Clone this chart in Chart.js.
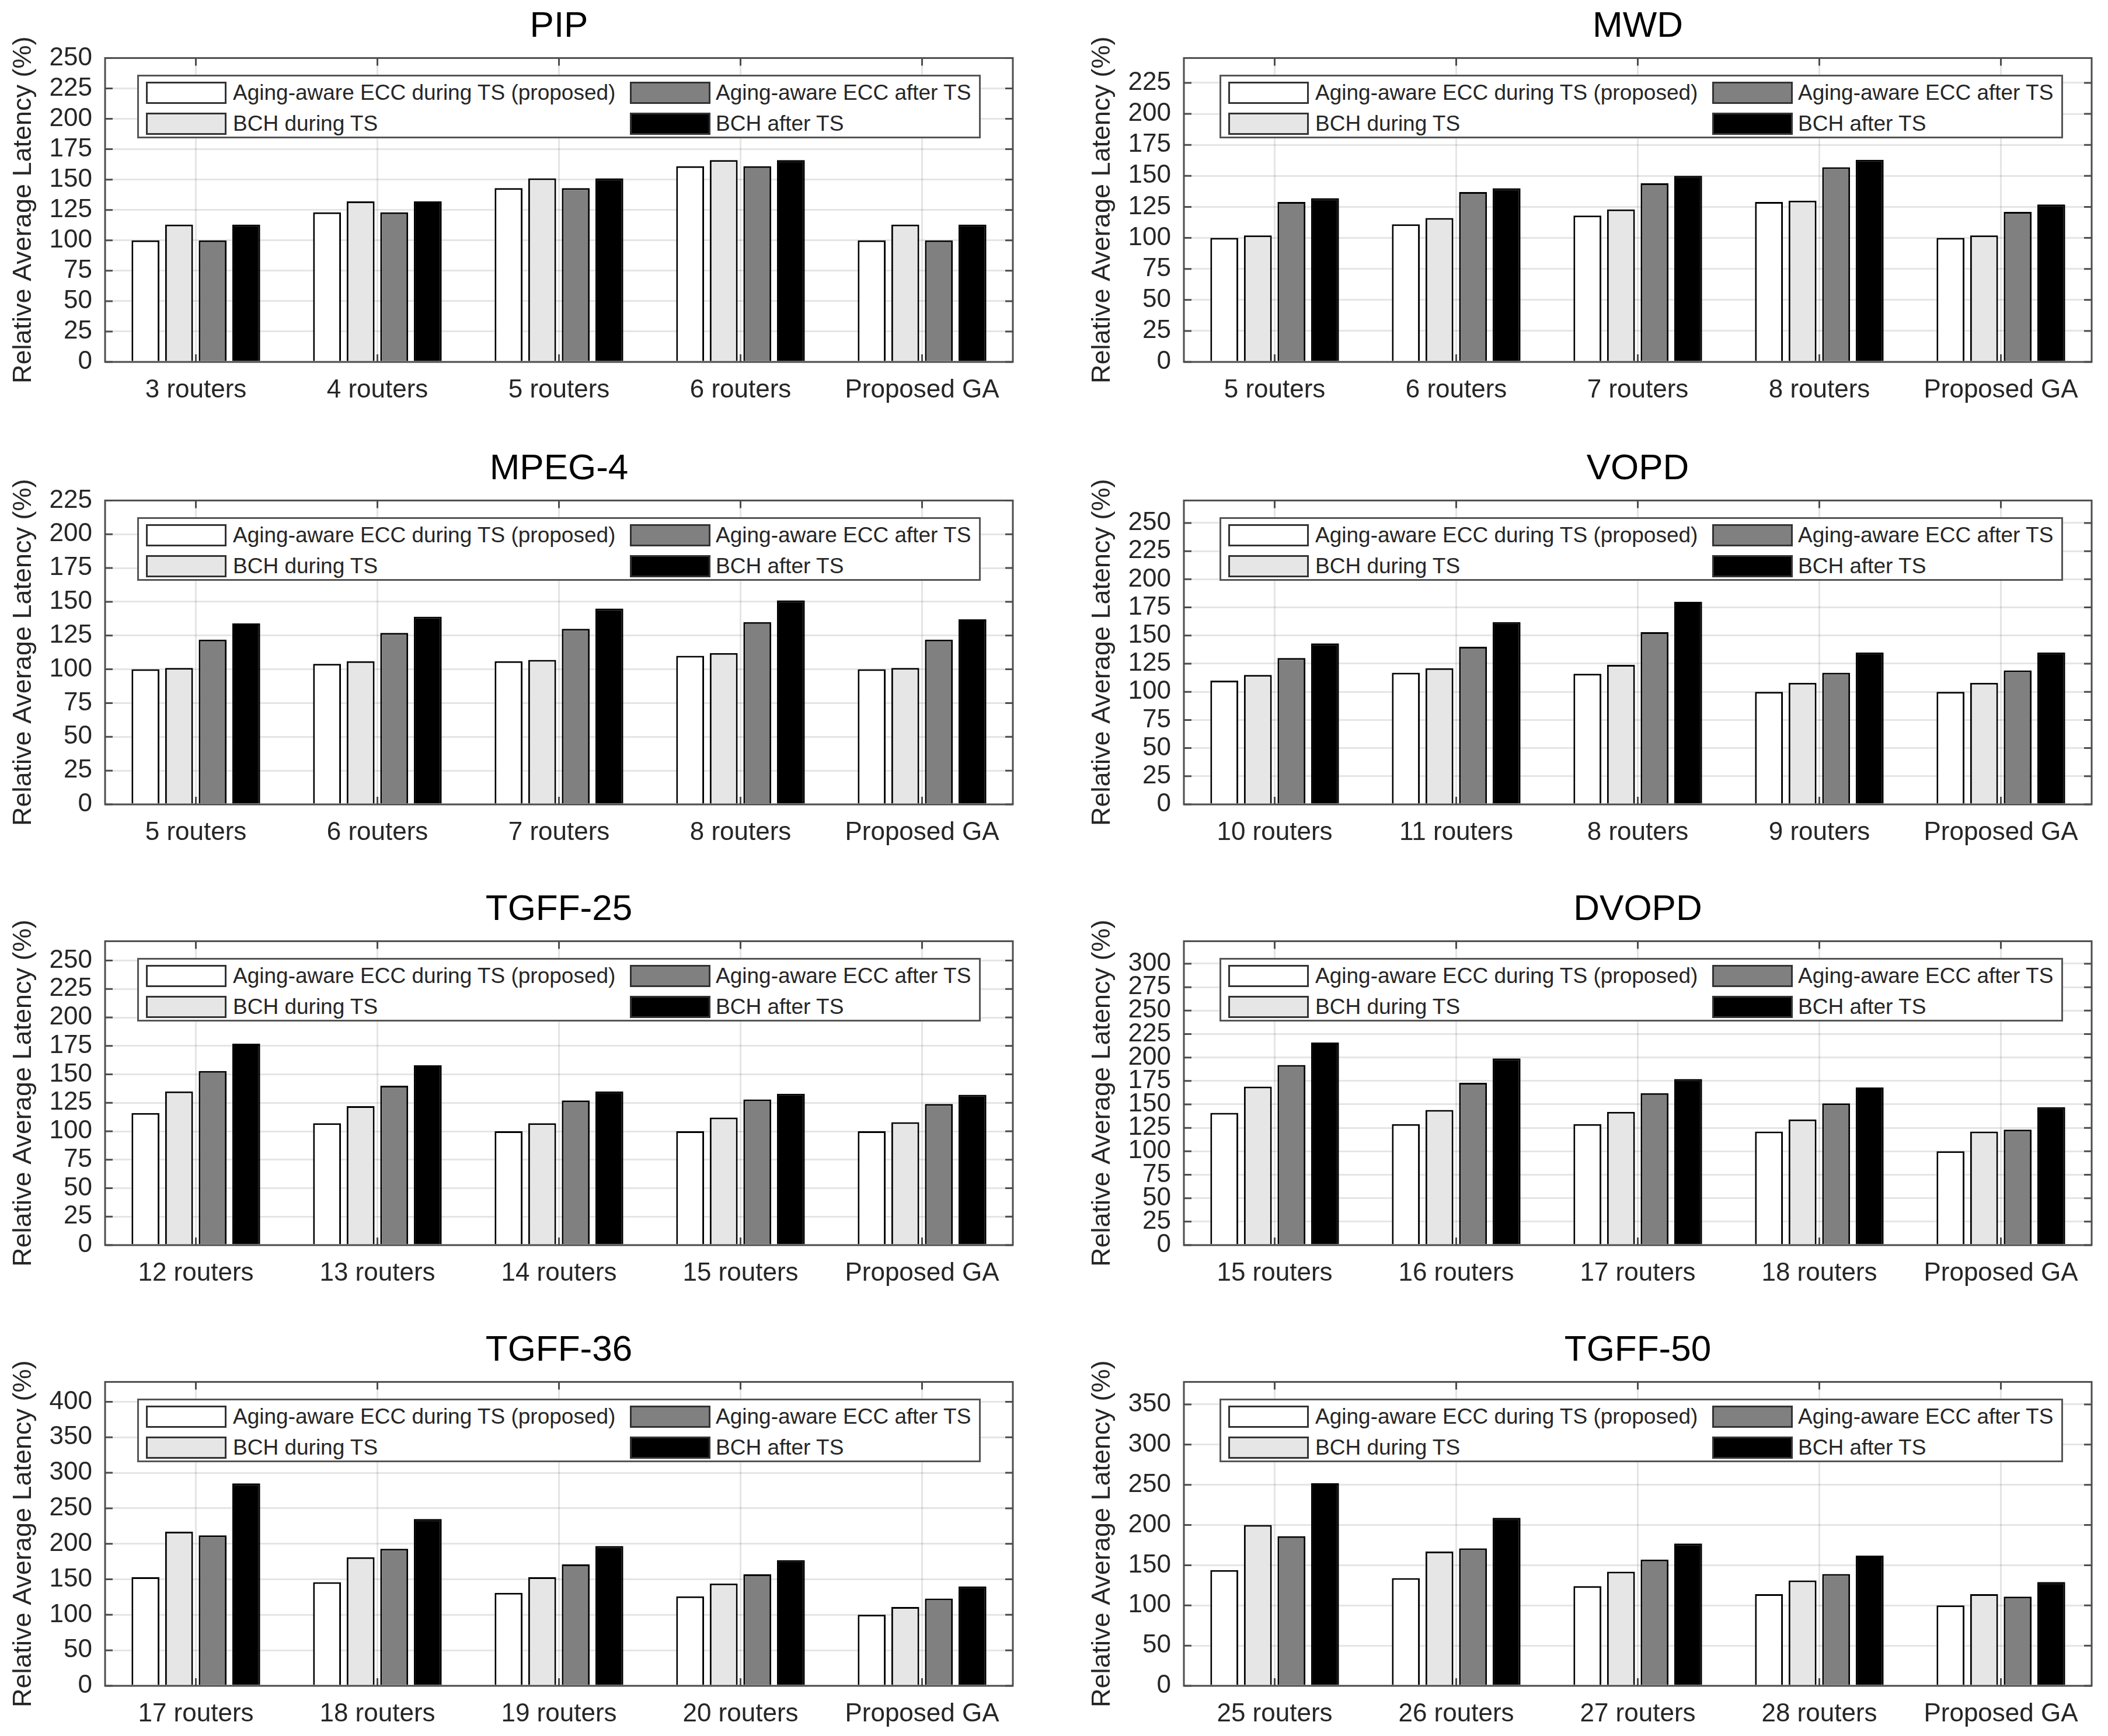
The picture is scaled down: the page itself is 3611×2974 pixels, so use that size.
<!DOCTYPE html>
<html>
<head>
<meta charset="utf-8">
<script src="https://cdn.jsdelivr.net/npm/chart.js@4.4.1/dist/chart.umd.min.js"></script>
<style>
  body { margin: 0; background: #fff; width: 3611px; height: 2974px; overflow: hidden; position: relative; font-family: 'Liberation Sans', Arial, sans-serif; }
  .panel { position: absolute; width: 1760px; height: 700px; }
  .panel canvas { position: absolute; left: 0; top: 0; }
  .legend { position: absolute; top: 128px; width: 1445px; height: 109px; border: 3px solid #555; box-sizing: border-box; background: #fff; }
  .sw { position: absolute; width: 138px; height: 38px; border: 3px solid #333; box-sizing: border-box; }
  .txt { position: absolute; font-size: 37px; line-height: 38px; color: #262626; white-space: nowrap; }
</style>
</head>
<body>
<script>
// series names (legend order follows the bar order inside each group)
const seriesNames = ['Aging-aware ECC during TS (proposed)', 'BCH during TS', 'Aging-aware ECC after TS', 'BCH after TS'];
const seriesFill = ['#ffffff', '#e6e6e6', '#808080', '#000000'];
const yTitle = 'Relative Average Latency (%)';

// PIP
const pipLabels = ['3 routers', '4 routers', '5 routers', '6 routers', 'Proposed GA'];
const pipEccDuring = [100, 123, 143, 161, 100];
const pipBchDuring = [113, 132, 151, 166, 113];
const pipEccAfter = [100, 123, 143, 161, 100];
const pipBchAfter = [113, 132, 151, 166, 113];

// MWD
const mwdLabels = ['5 routers', '6 routers', '7 routers', '8 routers', 'Proposed GA'];
const mwdEccDuring = [100, 111, 118, 129, 100];
const mwdBchDuring = [102, 116, 123, 130, 102];
const mwdEccAfter = [129, 137, 144, 157, 121];
const mwdBchAfter = [132, 140, 150, 163, 127];

// MPEG-4
const mpegLabels = ['5 routers', '6 routers', '7 routers', '8 routers', 'Proposed GA'];
const mpegEccDuring = [100, 104, 106, 110, 100];
const mpegBchDuring = [101, 106, 107, 112, 101];
const mpegEccAfter = [122, 127, 130, 135, 122];
const mpegBchAfter = [134, 139, 145, 151, 137];

// VOPD
const vopdLabels = ['10 routers', '11 routers', '8 routers', '9 routers', 'Proposed GA'];
const vopdEccDuring = [110, 117, 116, 100, 100];
const vopdBchDuring = [115, 121, 124, 108, 108];
const vopdEccAfter = [130, 140, 153, 117, 119];
const vopdBchAfter = [143, 162, 180, 135, 135];

// TGFF-25
const t25Labels = ['12 routers', '13 routers', '14 routers', '15 routers', 'Proposed GA'];
const t25EccDuring = [116, 107, 100, 100, 100];
const t25BchDuring = [135, 122, 107, 112, 108];
const t25EccAfter = [153, 140, 127, 128, 124];
const t25BchAfter = [177, 158, 135, 133, 132];

// DVOPD
const dvopdLabels = ['15 routers', '16 routers', '17 routers', '18 routers', 'Proposed GA'];
const dvopdEccDuring = [141, 129, 129, 121, 100];
const dvopdBchDuring = [169, 144, 142, 134, 121];
const dvopdEccAfter = [192, 173, 162, 151, 123];
const dvopdBchAfter = [216, 199, 177, 168, 147];

// TGFF-36
const t36Labels = ['17 routers', '18 routers', '19 routers', '20 routers', 'Proposed GA'];
const t36EccDuring = [153, 146, 131, 126, 100];
const t36BchDuring = [217, 181, 153, 144, 111];
const t36EccAfter = [212, 193, 171, 157, 123];
const t36BchAfter = [285, 235, 197, 177, 140];

// TGFF-50
const t50Labels = ['25 routers', '26 routers', '27 routers', '28 routers', 'Proposed GA'];
const t50EccDuring = [144, 134, 124, 114, 100];
const t50BchDuring = [200, 167, 142, 131, 114];
const t50EccAfter = [186, 171, 157, 139, 111];
const t50BchAfter = [252, 209, 177, 162, 129];

const titles = ['PIP', 'MWD', 'MPEG-4', 'VOPD', 'TGFF-25', 'DVOPD', 'TGFF-36', 'TGFF-50'];
const yMax = [250, 245, 225, 270, 267, 324, 428, 378];
const yStep = [25, 25, 25, 25, 25, 25, 50, 50];

const panels = [
  [pipLabels, [pipEccDuring, pipBchDuring, pipEccAfter, pipBchAfter]],
  [mwdLabels, [mwdEccDuring, mwdBchDuring, mwdEccAfter, mwdBchAfter]],
  [mpegLabels, [mpegEccDuring, mpegBchDuring, mpegEccAfter, mpegBchAfter]],
  [vopdLabels, [vopdEccDuring, vopdBchDuring, vopdEccAfter, vopdBchAfter]],
  [t25Labels, [t25EccDuring, t25BchDuring, t25EccAfter, t25BchAfter]],
  [dvopdLabels, [dvopdEccDuring, dvopdBchDuring, dvopdEccAfter, dvopdBchAfter]],
  [t36Labels, [t36EccDuring, t36BchDuring, t36EccAfter, t36BchAfter]],
  [t50Labels, [t50EccDuring, t50BchDuring, t50EccAfter, t50BchAfter]]
];

Chart.defaults.font.family = "'Liberation Sans', Arial, sans-serif";

// box around the axes plus the small inward ticks, like matlab draws it
const axesBox = {
  id: 'axesBox',
  afterDraw(chart) {
    const { ctx, chartArea: a, scales: { x, y } } = chart;
    ctx.save();
    ctx.strokeStyle = '#4d4d4d';
    ctx.lineWidth = 3;
    ctx.beginPath();
    y.ticks.forEach(t => {
      const py = y.getPixelForValue(t.value);
      ctx.moveTo(a.left, py); ctx.lineTo(a.left + 13, py);
      ctx.moveTo(a.right, py); ctx.lineTo(a.right - 13, py);
    });
    x.ticks.forEach((t, i) => {
      const px = x.getPixelForTick(i);
      ctx.moveTo(px, a.top); ctx.lineTo(px, a.top + 13);
      ctx.moveTo(px, a.bottom); ctx.lineTo(px, a.bottom - 13);
    });
    ctx.stroke();
    ctx.strokeRect(a.left, a.top, a.right - a.left, a.bottom - a.top);
    ctx.restore();
  }
};

const rowTop = [0, 758, 1513, 2268];
const colLeft = [0, 1848];
const legendLeft = [235, 241];

panels.forEach(([labels, series], p) => {
  const row = Math.floor(p / 2), col = p % 2;
  const div = document.createElement('div');
  div.className = 'panel';
  div.style.left = colLeft[col] + 'px';
  div.style.top = rowTop[row] + 'px';
  const canvas = document.createElement('canvas');
  canvas.width = 1760;
  canvas.height = 700;
  div.appendChild(canvas);

  // legend inside the axes, 2 columns
  const leg = document.createElement('div');
  leg.className = 'legend';
  leg.style.left = legendLeft[col] + 'px';
  seriesNames.forEach((name, k) => {
    const c = Math.floor(k / 2), r = k % 2;
    const sw = document.createElement('div');
    sw.className = 'sw';
    sw.style.background = seriesFill[k];
    sw.style.left = (c ? 841 : 12) + 'px';
    sw.style.top = (r ? 62 : 9) + 'px';
    const tx = document.createElement('div');
    tx.className = 'txt';
    tx.textContent = name;
    tx.style.left = (c ? 988 : 161) + 'px';
    tx.style.top = (r ? 62 : 9) + 'px';
    leg.appendChild(sw);
    leg.appendChild(tx);
  });
  div.appendChild(leg);
  document.body.appendChild(div);

  const step = yStep[p];
  new Chart(canvas, {
    type: 'bar',
    data: {
      labels: labels,
      datasets: series.map((d, k) => ({
        label: seriesNames[k],
        data: d,
        backgroundColor: seriesFill[k],
        borderColor: '#000000',
        borderWidth: 3,
        categoryPercentage: 0.74,
        barPercentage: 0.83
      }))
    },
    options: {
      responsive: false,
      animation: false,
      devicePixelRatio: 1,
      layout: { padding: { left: 0, right: 25, top: 0, bottom: 0 } },
      plugins: {
        legend: { display: false },
        tooltip: { enabled: false },
        title: {
          display: true,
          text: titles[p],
          fullSize: false,
          color: '#000000',
          font: { size: 62, weight: 'normal' },
          padding: { top: 9, bottom: 16 }
        }
      },
      scales: {
        x: {
          grid: { color: 'rgba(0,0,0,0.1)', lineWidth: 3, offset: false, drawTicks: false },
          border: { display: false },
          ticks: { color: '#262626', font: { size: 44 }, padding: 22, maxRotation: 0, autoSkip: false },
          afterFit: s => { s.height = 80; }
        },
        y: {
          min: 0,
          max: yMax[p],
          grid: { color: 'rgba(0,0,0,0.1)', lineWidth: 3, drawTicks: false },
          border: { display: false },
          ticks: { stepSize: step, includeBounds: false, autoSkip: false, color: '#262626', font: { size: 44 }, padding: 22 },
          title: { display: true, text: yTitle, color: '#262626', font: { size: 45 }, padding: { top: 14, bottom: 0 } },
          afterBuildTicks: s => { s.ticks = s.ticks.filter(t => t.value % step === 0 && t.value <= yMax[p]); },
          afterFit: s => { s.width = 180; }
        }
      }
    },
    plugins: [axesBox]
  });
});
</script>
</body>
</html>
